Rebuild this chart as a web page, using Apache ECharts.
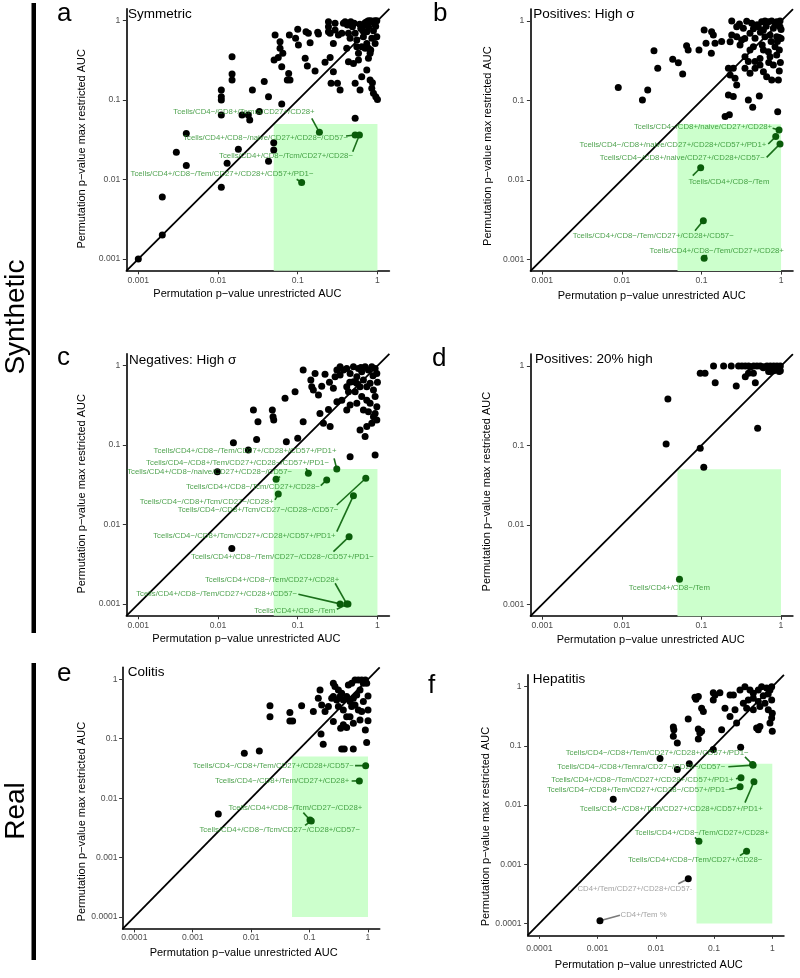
<!DOCTYPE html>
<html><head><meta charset="utf-8">
<script src="https://cdn.jsdelivr.net/npm/echarts@6/dist/echarts.min.js"></script>
<style>html,body{margin:0;padding:0;background:#fff}#c{width:800px;height:978px}</style>
</head><body><div id="c"></div>
<script>
// ---------------- DATA ----------------
const ticks3 = [0.001, 0.01, 0.1, 1];
const tickLabels3 = ['0.001', '0.01', '0.1', '1'];
const ticks4 = [0.0001, 0.001, 0.01, 0.1, 1];
const tickLabels4 = ['0.0001', '0.001', '0.01', '0.1', '1'];
const threshold = 0.05;
const rectFloor = 0.0001;

const panelLetters = ['a', 'b', 'c', 'd', 'e', 'f'];
const panelTitles = ['Symmetric', 'Positives: High σ', 'Negatives: High σ', 'Positives: 20% high', 'Colitis', 'Hepatitis'];
const groupNames = ['Synthetic', 'Real'];
const xTitle = 'Permutation p−value unrestricted AUC';
const yTitle = 'Permutation p−value max restricted AUC';

// unlabeled points [unrestricted p, max restricted p]
const pointsA = [[0.001,0.001],[0.002,0.002],[0.002,0.006],[0.003,0.022],[0.004,0.038],[0.004,0.015],[0.011,0.008],[0.011,0.065],[0.011,0.10],[0.011,0.11],[0.011,0.134],[0.015,0.179],[0.015,0.213],[0.015,0.352],[0.013,0.016],[0.018,0.024],[0.020,0.065],[0.024,0.065],[0.025,0.056],[0.027,0.134],[0.033,0.072],[0.038,0.171],[0.043,0.11],[0.043,0.017],[0.050,0.029],[0.050,0.0235],[0.063,0.089],[0.052,0.66],[0.060,0.544],[0.060,0.449],[0.065,0.388],[0.0505,0.32],[0.057,0.345],[0.063,0.264],[0.0785,0.66],[0.077,0.217],[0.074,0.179],[0.080,0.179],[0.094,0.60],[0.10,0.778],[0.102,0.494],[0.127,0.727],[0.136,0.693],[0.143,0.529],[0.124,0.336],[0.132,0.269],[0.165,0.232],[0.178,0.713],[0.182,0.68],[0.243,0.97],[0.243,0.84],[0.255,0.693],[0.243,0.727],[0.28,0.518],[0.255,0.345],[0.22,0.299],[0.28,0.228],[0.262,0.163],[0.294,0.926],[0.294,0.763],[0.315,0.163],[0.34,0.134],[0.357,0.693],[0.374,0.926],[0.393,0.97],[0.42,0.882],[0.433,0.693],[0.433,0.305],[0.463,0.97],[0.486,0.84],[0.51,0.926],[0.50,0.29],[0.525,0.693],[0.551,0.471],[0.578,0.388],[0.578,0.32],[0.551,0.571],[0.618,0.80],[0.655,0.748],[0.681,0.882],[0.70,0.944],[0.735,0.97],[0.771,1.0],[0.824,1.0],[0.873,0.97],[0.926,1.0],[0.982,1.0],[0.771,0.84],[0.735,0.727],[0.667,0.629],[0.735,0.518],[0.771,0.449],[0.824,0.428],[0.935,0.518],[0.982,0.629],[0.809,0.388],[0.771,0.336],[0.735,0.239],[0.809,0.179],[0.865,0.166],[0.849,0.141],[0.891,0.122],[0.953,0.11],[1.0,0.102],[0.635,0.197],[0.525,0.163],[0.605,0.134],[0.525,0.059],[0.324,0.66],[0.412,0.449],[0.454,0.60],[0.891,0.75],[0.85,0.60],[0.70,0.45],[0.635,0.47],[0.95,0.85],[0.60,0.90]];
const pointsB = [[0.009,0.145],[0.0181,0.101],[0.0211,0.135],[0.0253,0.423],[0.0282,0.254],[0.0435,0.329],[0.0512,0.299],[0.058,0.215],[0.065,0.489],[0.068,0.431],[0.093,0.431],[0.108,0.77],[0.114,0.523],[0.134,0.734],[0.141,0.666],[0.148,0.523],[0.133,0.392],[0.179,0.55],[0.24,1.0],[0.37,0.99],[0.428,0.935],[0.571,0.98],[0.628,1.0],[0.692,0.98],[0.763,1.0],[0.881,0.98],[0.97,1.0],[0.277,0.848],[0.336,0.808],[0.518,0.848],[0.6,0.77],[0.8,0.808],[0.97,0.848],[0.24,0.666],[0.277,0.635],[0.32,0.576],[0.407,0.70],[0.471,0.605],[0.628,0.635],[0.727,0.666],[0.881,0.635],[0.229,0.549],[0.305,0.499],[0.407,0.431],[0.449,0.475],[0.6,0.431],[0.692,0.41],[0.84,0.475],[0.952,0.431],[0.352,0.355],[0.388,0.308],[0.471,0.308],[0.544,0.338],[0.727,0.355],[0.881,0.373],[0.218,0.254],[0.251,0.254],[0.352,0.254],[0.471,0.254],[0.6,0.23],[0.659,0.199],[0.763,0.181],[0.925,0.181],[0.229,0.209],[0.264,0.19],[0.407,0.22],[0.544,0.279],[0.218,0.117],[0.251,0.112],[0.388,0.101],[0.44,0.082],[0.533,0.114],[0.907,0.072],[0.198,0.0625],[0.224,0.066],[0.277,0.156],[0.95,0.235],[0.5,0.9],[0.55,0.72],[0.65,0.86],[0.75,0.55],[0.9,0.55],[1.0,0.78],[0.3,0.92],[0.85,0.9],[0.45,0.8],[0.95,0.62],[0.7,0.3],[0.8,0.28],[0.58,0.5],[0.35,0.6],[1.0,0.6],[0.98,0.3]];
const pointsC = [[0.0156,0.107],[0.024,0.0868],[0.0278,0.277],[0.0305,0.118],[0.0317,0.197],[0.048,0.277],[0.049,0.228],[0.050,0.207],[0.0693,0.388],[0.072,0.11],[0.0926,0.471],[0.10,0.122],[0.117,0.88],[0.117,0.197],[0.146,0.66],[0.15,0.544],[0.157,0.494],[0.165,0.80],[0.182,0.428],[0.19,0.25],[0.21,0.188],[0.255,0.171],[0.243,0.28],[0.28,0.52],[0.294,0.727],[0.31,0.88],[0.34,0.763],[0.412,0.544],[0.433,0.471],[0.31,0.352],[0.357,0.366],[0.412,0.277],[0.454,0.32],[0.454,0.0715],[0.935,0.075],[0.70,0.128],[0.34,0.97],[0.374,0.88],[0.412,0.92],[0.454,0.80],[0.50,0.97],[0.551,0.727],[0.578,0.925],[0.635,0.84],[0.70,0.97],[0.771,0.88],[0.849,0.97],[0.935,0.925],[0.982,0.80],[0.50,0.63],[0.551,0.60],[0.605,0.544],[0.667,0.66],[0.735,0.544],[0.809,0.60],[0.891,0.494],[0.525,0.471],[0.635,0.41],[0.735,0.366],[0.809,0.336],[0.935,0.41],[0.551,0.336],[0.667,0.277],[0.771,0.264],[0.891,0.228],[0.982,0.207],[0.849,0.188],[0.735,0.171],[0.605,0.155],[0.935,0.25],[0.982,0.305],[0.0098,0.0463],[0.0149,0.005],[0.22,0.78],[0.25,0.62],[0.2,0.55],[0.62,0.95],[0.88,0.75],[1.0,0.62],[0.45,0.62]];
const pointsD = [[0.036,0.104],[0.0379,0.384],[0.0966,0.092],[0.107,0.053],[0.0966,0.81],[0.111,0.81],[0.142,1.0],[0.149,0.617],[0.19,1.0],[0.237,1.0],[0.274,0.56],[0.293,1.0],[0.323,1.0],[0.356,1.0],[0.392,1.0],[0.411,0.97],[0.453,1.0],[0.499,1.0],[0.55,1.0],[0.606,0.98],[0.667,1.0],[0.735,1.0],[0.81,1.0],[0.891,1.0],[0.982,1.0],[0.356,0.734],[0.45,0.81],[0.476,0.617],[0.509,0.164],[0.735,0.85],[0.81,0.87],[0.95,0.85],[0.982,0.87],[0.39,0.81],[0.70,0.85],[0.93,0.95],[0.6,0.95],[0.85,0.97]];
const pointsE = [[0.00274,0.00542],[0.00764,0.0568],[0.0138,0.0622],[0.021,0.235],[0.021,0.36],[0.046,0.275],[0.046,0.199],[0.0513,0.199],[0.0731,0.36],[0.116,0.286],[0.141,0.479],[0.151,0.66],[0.161,0.37],[0.157,0.12],[0.171,0.0805],[0.184,0.286],[0.21,0.347],[0.255,0.194],[0.34,0.15],[0.354,0.0672],[0.392,0.0672],[0.56,0.0672],[0.431,0.155],[0.948,0.086],[0.90,0.14],[1.0,0.20],[1.0,0.305],[1.0,0.524],[0.95,0.856],[0.90,0.975],[0.239,0.479],[0.255,0.511],[0.291,0.449],[0.332,0.511],[0.311,0.661],[0.354,0.581],[0.378,0.449],[0.431,0.511],[0.492,0.421],[0.561,0.479],[0.64,0.545],[0.73,0.661],[0.461,0.803],[0.525,0.856],[0.599,0.974],[0.683,0.974],[0.78,0.974],[0.832,0.856],[0.255,0.856],[0.272,0.753],[0.311,0.347],[0.378,0.305],[0.431,0.235],[0.492,0.235],[0.525,0.347],[0.599,0.37],[0.683,0.305],[0.78,0.286],[0.832,0.421],[0.73,0.207],[0.561,0.182],[0.378,0.171]];
const pointsF = [[0.00186,0.0125],[0.0118,0.061],[0.0234,0.04],[0.0376,0.0497],[0.097,0.0865],[0.286,0.0946],[0.02,0.208],[0.0204,0.187],[0.02,0.145],[0.0234,0.112],[0.036,0.283],[0.047,0.66],[0.049,0.613],[0.0537,0.68],[0.0612,0.433],[0.0655,0.38],[0.0537,0.192],[0.057,0.165],[0.0537,0.13],[0.0612,0.176],[0.097,0.79],[0.104,0.725],[0.097,0.597],[0.126,0.79],[0.135,0.187],[0.154,0.433],[0.188,0.314],[0.229,0.406],[0.244,0.242],[0.188,0.725],[0.215,0.725],[0.279,0.879],[0.339,1.0],[0.414,0.879],[0.472,0.773],[0.575,0.879],[0.656,1.0],[0.8,0.95],[0.912,0.879],[0.975,1.0],[0.318,0.525],[0.387,0.597],[0.472,0.637],[0.575,0.56],[0.748,0.525],[0.975,0.597],[0.363,0.433],[0.472,0.406],[0.614,0.462],[0.853,0.406],[1.0,0.357],[0.975,0.294],[0.538,0.2],[0.575,0.187],[0.614,0.213],[0.912,0.242],[1.0,0.176],[0.7,0.7],[0.85,0.75]];

// labeled (highlighted) populations
const labelsA = ['Tcells/CD4−/CD8+/Temra/CD27+/CD28+','Tcells/CD4+/CD8−/naive/CD27+/CD28−/CD57−','Tcells/CD4+/CD8−/Tcm/CD27+/CD28−','Tcells/CD4+/CD8−/Tem/CD27+/CD28+/CD57+/PD1−'];
const labelPointsA = [[0.187,0.0393],[0.525,0.0364],[0.594,0.0364],[0.112,0.00914]];
const labelsB = ['Tcells/CD4−/CD8+/naive/CD27+/CD28+','Tcells/CD4−/CD8+/naive/CD27+/CD28+/CD57+/PD1+','Tcells/CD4−/CD8+/naive/CD27+/CD28+/CD57−','Tcells/CD4+/CD8−/Tem','Tcells/CD4+/CD8−/Tem/CD27+/CD28+/CD57−','Tcells/CD4+/CD8−/Tem/CD27+/CD28+'];
const labelPointsB = [[0.943,0.0424],[0.857,0.035],[0.97,0.0283],[0.0977,0.0142],[0.1055,0.00306],[0.108,0.00103]];
const labelsC = ['Tcells/CD4+/CD8−/Tem/CD27+/CD28+/CD57+/PD1+','Tcells/CD4−/CD8+/Tem/CD27+/CD28−/CD57+/PD1−','Tcells/CD4+/CD8−/naive/CD27+/CD28−/CD57−','Tcells/CD4+/CD8−/Tcm/CD27+/CD28−','Tcells/CD4−/CD8+/Tcm/CD27−/CD28+','Tcells/CD4−/CD8+/Tcm/CD27−/CD28−/CD57−','Tcells/CD4−/CD8+/Tcm/CD27+/CD28+/CD57+/PD1+','Tcells/CD4+/CD8−/Tem/CD27−/CD28−/CD57+/PD1−','Tcells/CD4+/CD8−/Tem/CD27+/CD28+','Tcells/CD4+/CD8−/Tem/CD27+/CD28+/CD57−','Tcells/CD4+/CD8−/Tem'];
const labelPointsC = [[0.309,0.05],[0.136,0.0441],[0.0535,0.0371],[0.231,0.0364],[0.057,0.0242],[0.714,0.0382],[0.50,0.0231],[0.441,0.00703],[0.412,0.001],[0.34,0.001],[0.427,0.001]];
const labelsD = ['Tcells/CD4+/CD8−/Tem'];
const labelPointsD = [[0.053,0.00206]];
const labelsE = ['Tcells/CD4−/CD8+/Tem/CD27+/CD28+/CD57−','Tcells/CD4−/CD8+/Tem/CD27+/CD28+','Tcells/CD4+/CD8−/Tcm/CD27−/CD28+','Tcells/CD4+/CD8−/Tcm/CD27−/CD28+/CD57−'];
const labelPointsE = [[0.912,0.0352],[0.711,0.0195],[0.1016,0.0043],[0.107,0.00413]];
const labelsF = ['Tcells/CD4−/CD8+/Tem/CD27+/CD28+/CD57+/PD1−','Tcells/CD4−/CD8+/Temra/CD27−/CD28−/CD57−','Tcells/CD4+/CD8−/Tcm/CD27+/CD28+/CD57+/PD1+','Tcells/CD4−/CD8+/Tem/CD27+/CD28−/CD57+/PD1−','Tcells/CD4−/CD8+/Tem/CD27+/CD28+/CD57+/PD1+','Tcells/CD4+/CD8−/Tem/CD27+/CD28+','Tcells/CD4+/CD8−/Tem/CD27+/CD28−'];
const labelPointsF = [[0.459,0.0484],[0.468,0.0472],[0.29,0.029],[0.28,0.0204],[0.484,0.0248],[0.055,0.00244],[0.362,0.00166]];
const greyLabelsF = ['CD4+/Tem/CD27+/CD28+/CD57-','CD4+/Tem %'];
const greyPointsF = [[0.0361,0.000569],[0.0011,0.000111]];

// ---------------- ANNOTATION PLACEMENT (log10 units: label centre x,y ; leader start x,y) ----------------
const placeA = [[-1.674,-1.154,-0.824,-1.229],[-1.404,-1.474,-0.394,-1.452],[-1.147,-1.70,-0.310,-1.65],[-1.95,-1.931,-1.013,-1.997]];
const placeB = [[-0.981,-1.331,-0.106,-1.351],[-1.358,-1.565,-0.161,-1.549],[-1.241,-1.722,-0.181,-1.717],[-0.655,-2.031,-1.11,-1.948],[-1.606,-2.704,-1.082,-2.641],[-0.809,-2.893,-0.935,-2.947]];
const placeC = [[-1.661,-1.074,-0.544,-1.167],[-1.755,-1.221,-0.895,-1.292],[-2.105,-1.339,-1.222,-1.397],[-1.563,-1.523,-0.711,-1.511],[-2.142,-1.712,-1.285,-1.691],[-1.498,-1.817,-0.51,-1.754],[-1.669,-2.14,-0.51,-2.09],[-1.192,-2.405,-0.552,-2.342],[-1.322,-2.698,-0.531,-2.74],[-2.017,-2.879,-0.992,-2.879],[-1.038,-3.089,-0.51,-3.068]];
const placeD = [[-1.403,-2.791,-1.309,-2.715]];
const placeE = [[-1.621,-1.453,-0.222,-1.453],[-1.469,-1.711,-0.280,-1.711],[-1.244,-2.16,-1.107,-2.244],[-1.512,-2.536,-1.078,-2.457]];
const placeF = [[-1.977,-1.119,-0.469,-1.186],[-2.249,-1.359,-0.755,-1.354],[-2.229,-1.566,-0.624,-1.555],[-2.30,-1.745,-0.738,-1.734],[-1.734,-2.059,-0.469,-1.958],[-1.210,-2.462,-1.328,-2.545],[-1.325,-2.92,-0.555,-2.853]];
const placeGreyF = [[-2.358,-3.413,-1.614,-3.329],[-2.209,-3.849,-2.615,-3.86]];

// ---------------- LAYOUT ----------------
const layout = [
  {left:126.35, top:8.8,   width:263.05, height:262,   min:-3.15, max:0.15, xGap:18,  yGap:39,   xPad:21, yPad:18, xMargin:5, yMargin:6},
  {left:530.4,  top:9.1,   width:262.6,  height:262,   min:-3.15, max:0.15, xGap:19,  yGap:37,   xPad:20, yPad:12, xMargin:5, yMargin:6},
  {left:126.35, top:353.8, width:263.05, height:262,   min:-3.15, max:0.15, xGap:17.5,yGap:39,   xPad:23, yPad:18, xMargin:5, yMargin:6},
  {left:530.4,  top:354.1, width:262.5,  height:262.1, min:-3.15, max:0.15, xGap:18,  yGap:38,   xPad:22, yPad:13, xMargin:5, yMargin:6},
  {left:122.6,  top:667.4, width:257.1,  height:261.5, min:-4.2,  max:0.2,  xGap:19,  yGap:35.5, xPad:15, yPad:47, xMargin:4, yMargin:5},
  {left:527.65, top:674.8, width:256.3,  height:260.5, min:-4.2,  max:0.2,  xGap:24,  yGap:36.5, xPad:14, yPad:43, xMargin:9, yMargin:6}
];
const letterPos = [[57,14],[433,14],[57,358],[432,359],[57,674],[428,686]];
const titlePos = [[128,14.6],[533.3,14.6],[129,360.3],[535,359.3],[127.7,672.6],[532.7,679.6]];

// ---------------- BUILD ----------------
const FONT = '"Liberation Sans", Arial, Helvetica, sans-serif';
const GREEN_TEXT = '#228b22', GREEN_SEG = '#1a6f1a', GREEN_PT = '#0a5c0a';
const GREY_TEXT = '#8c8c8c', GREY_SEG = '#7a7a7a';
const TICK_FONT = 8.6;
const L = Math.log10;

const panels = [
  {pts: pointsA, labs: labelsA, lpts: labelPointsA, place: placeA, ticks: ticks3, tl: tickLabels3, floor: null},
  {pts: pointsB, labs: labelsB, lpts: labelPointsB, place: placeB, ticks: ticks3, tl: tickLabels3, floor: null},
  {pts: pointsC, labs: labelsC, lpts: labelPointsC, place: placeC, ticks: ticks3, tl: tickLabels3, floor: null},
  {pts: pointsD, labs: labelsD, lpts: labelPointsD, place: placeD, ticks: ticks3, tl: tickLabels3, floor: null},
  {pts: pointsE, labs: labelsE, lpts: labelPointsE, place: placeE, ticks: ticks4, tl: tickLabels4, floor: rectFloor},
  {pts: pointsF, labs: labelsF, lpts: labelPointsF, place: placeF, ticks: ticks4, tl: tickLabels4, floor: rectFloor,
   glabs: greyLabelsF, gpts: greyPointsF, gplace: placeGreyF}
];

function fmt(vals, labs) {
  return function (v) {
    for (let i = 0; i < vals.length; i++) if (Math.abs(L(vals[i]) - v) < 1e-6) return labs[i];
    return '';
  };
}

const grids = [], xAxes = [], yAxes = [], series = [];

function segSeries(i, data, color) {
  return {
    type: 'custom', xAxisIndex: i, yAxisIndex: i, z: 4, silent: true, clip: false,
    data: data, encode: {x: [0, 2], y: [1, 3]},
    renderItem: function (params, api) {
      const a = api.coord([api.value(0), api.value(1)]);
      const b = api.coord([api.value(2), api.value(3)]);
      return {type: 'line', shape: {x1: a[0], y1: a[1], x2: b[0], y2: b[1]},
        style: {stroke: color, lineWidth: 1.6}};
    }
  };
}
function textSeries(i, data, color) {
  return {
    type: 'scatter', xAxisIndex: i, yAxisIndex: i, z: 7, silent: true, clip: false,
    symbolSize: 0, itemStyle: {color: 'rgba(0,0,0,0)'},
    label: {show: true, position: 'inside', formatter: '{b}', color: color,
      fontSize: 7.8, fontFamily: FONT},
    data: data
  };
}

panels.forEach(function (p, i) {
  const g = layout[i];
  grids.push({left: g.left, top: g.top, width: g.width, height: g.height,
    containLabel: false, outerBoundsMode: 'none'});
  const tickVals = p.ticks.map(function (t) { return L(t); });
  const common = {
    gridIndex: i, type: 'value', min: g.min, max: g.max,
    nameLocation: 'middle', nameMoveOverlap: false,
    axisLine: {show: true, onZero: false, lineStyle: {color: '#000', width: 1.6}},
    axisTick: {show: true, length: 3.5, customValues: tickVals, lineStyle: {color: '#333', width: 1}},
    splitLine: {show: false},
  };
  xAxes.push(Object.assign({}, common, {
    name: xTitle, nameGap: g.xGap,
    nameTextStyle: {fontSize: 11, color: '#000', fontFamily: FONT, padding: [0, g.xPad, 0, 0]},
    axisLabel: {customValues: tickVals, formatter: fmt(p.ticks, p.tl), fontSize: TICK_FONT,
      color: '#4d4d4d', fontFamily: FONT, margin: g.xMargin}
  }));
  yAxes.push(Object.assign({}, common, {
    name: yTitle, nameGap: g.yGap, nameRotate: 90,
    nameTextStyle: {fontSize: 11, color: '#000', fontFamily: FONT, padding: [0, g.yPad, 0, 0]},
    axisLabel: {customValues: tickVals, formatter: fmt(p.ticks, p.tl), fontSize: TICK_FONT,
      color: '#4d4d4d', fontFamily: FONT, margin: g.yMargin}
  }));

  // significance region
  const bottom = p.floor === null ? g.min : L(p.floor);
  series.push({
    type: 'custom', xAxisIndex: i, yAxisIndex: i, z: 1, silent: true,
    data: [[L(threshold), bottom, L(1), L(threshold)]], encode: {x: [0, 2], y: [1, 3]},
    renderItem: function (params, api) {
      const a = api.coord([api.value(0), api.value(1)]);
      const b = api.coord([api.value(2), api.value(3)]);
      return {type: 'rect', shape: {x: a[0], y: b[1], width: b[0] - a[0], height: a[1] - b[1]},
        style: {fill: '#ccffcc'}};
    }
  });
  // identity line
  series.push({type: 'line', xAxisIndex: i, yAxisIndex: i, z: 2, silent: true, showSymbol: false,
    data: [[g.min, g.min], [g.max, g.max]], lineStyle: {color: '#000', width: 1.8}});
  // all populations
  series.push({type: 'scatter', xAxisIndex: i, yAxisIndex: i, z: 3, silent: true, symbolSize: 7,
    itemStyle: {color: '#000', opacity: 1},
    data: p.pts.map(function (d) { return [L(d[0]), L(d[1])]; })});
  // highlighted populations
  series.push(segSeries(i, p.place.map(function (q, k) {
    return [q[2], q[3], L(p.lpts[k][0]), L(p.lpts[k][1])]; }), GREEN_SEG));
  series.push({type: 'scatter', xAxisIndex: i, yAxisIndex: i, z: 5, silent: true, symbolSize: 7,
    itemStyle: {color: GREEN_PT, opacity: 1},
    data: p.lpts.map(function (d) { return [L(d[0]), L(d[1])]; })});
  series.push(textSeries(i, p.place.map(function (q, k) {
    return {name: p.labs[k], value: [q[0], q[1]]}; }), GREEN_TEXT));
  if (p.glabs) {
    series.push(segSeries(i, p.gplace.map(function (q, k) {
      return [q[2], q[3], L(p.gpts[k][0]), L(p.gpts[k][1])]; }), GREY_SEG));
    series.push({type: 'scatter', xAxisIndex: i, yAxisIndex: i, z: 5, silent: true, symbolSize: 7,
      itemStyle: {color: '#000', opacity: 1},
      data: p.gpts.map(function (d) { return [L(d[0]), L(d[1])]; })});
    series.push(textSeries(i, p.gplace.map(function (q, k) {
      return {name: p.glabs[k], value: [q[0], q[1]]}; }), GREY_TEXT));
  }
});

const graphics = [
  {type: 'rect', shape: {x: 31.5, y: 3, width: 4.5, height: 630}, style: {fill: '#000'}},
  {type: 'rect', shape: {x: 31.5, y: 663, width: 4.5, height: 297}, style: {fill: '#000'}},
  {type: 'text', x: 16, y: 317, rotation: Math.PI / 2,
    style: {text: groupNames[0], font: '28px ' + FONT, fill: '#000', textAlign: 'center', textVerticalAlign: 'middle', align: 'center', verticalAlign: 'middle'}},
  {type: 'text', x: 16, y: 811, rotation: Math.PI / 2,
    style: {text: groupNames[1], font: '28px ' + FONT, fill: '#000', textAlign: 'center', textVerticalAlign: 'middle', align: 'center', verticalAlign: 'middle'}}
];
panelLetters.forEach(function (t, i) {
  graphics.push({type: 'text', x: letterPos[i][0], y: letterPos[i][1],
    style: {text: t, font: '26px ' + FONT, fill: '#000', textAlign: 'left', textVerticalAlign: 'middle', align: 'left', verticalAlign: 'middle'}});
  graphics.push({type: 'text', x: titlePos[i][0], y: titlePos[i][1],
    style: {text: panelTitles[i], font: '13.5px ' + FONT, fill: '#000', textAlign: 'left', textVerticalAlign: 'middle', align: 'left', verticalAlign: 'middle'}});
});

const chart = echarts.init(document.getElementById('c'), null, {renderer: 'canvas'});
chart.setOption({
  animation: false,
  backgroundColor: '#fff',
  textStyle: {fontFamily: FONT},
  grid: grids, xAxis: xAxes, yAxis: yAxes, series: series, graphic: graphics
});
</script></body></html>
